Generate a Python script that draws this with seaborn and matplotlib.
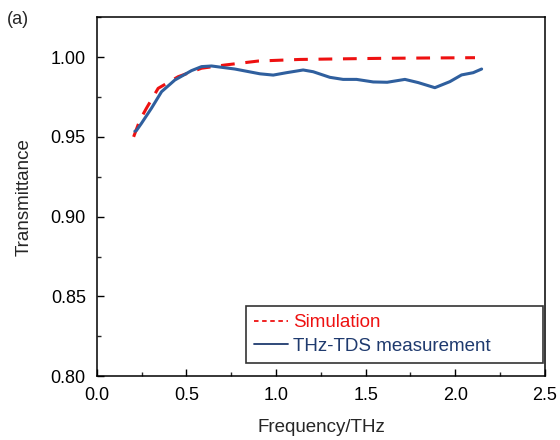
import matplotlib
matplotlib.use("Agg")
import matplotlib.pyplot as plt
import seaborn as sns
import pandas as pd
from matplotlib.ticker import AutoMinorLocator

sim_freq = [0.205, 0.240, 0.277, 0.342, 0.454, 0.584, 0.714, 0.900, 1.133, 1.449, 1.596, 1.821, 2.110]
sim_trans = [0.950, 0.9605, 0.968, 0.9804, 0.9877, 0.993, 0.995, 0.9975, 0.9985, 0.9990, 0.9992, 0.9994, 0.9996]

meas_freq = [0.212, 0.221, 0.249, 0.305, 0.361, 0.435, 0.528, 0.584, 0.640, 0.770,
             0.910, 0.984, 1.058, 1.151, 1.207, 1.300, 1.374, 1.449, 1.542, 1.620,
             1.719, 1.793, 1.886, 1.970, 2.035, 2.100, 2.147]
meas_trans = [0.9535, 0.954, 0.9585, 0.968, 0.9783, 0.9856, 0.9915, 0.994, 0.9944, 0.9925,
              0.9895, 0.9887, 0.9902, 0.9919, 0.9908, 0.9873, 0.9860, 0.9860, 0.9844, 0.9842,
              0.9860, 0.9840, 0.9808, 0.9846, 0.9888, 0.9902, 0.9925]

sns.set_theme(style="ticks")
plt.rcParams['font.family'] = ['Liberation Sans', 'DejaVu Sans']

fig = plt.figure(figsize=(5.6, 4.4), dpi=100)
ax = fig.add_axes([0.173, 0.145, 0.800, 0.816])

sim = pd.DataFrame({"f": sim_freq, "t": sim_trans})
meas = pd.DataFrame({"f": meas_freq, "t": meas_trans})

sns.lineplot(data=sim, x="f", y="t", ax=ax, color="#ee1111", lw=2.2,
             linestyle=(0, (4.5, 3.5)), label="Simulation")
sns.lineplot(data=meas, x="f", y="t", ax=ax, color="#2f5f9e", lw=2.2,
             label="THz-TDS measurement")
for ln in ax.get_lines():
    ln.set_solid_joinstyle("round")
    ln.set_dash_joinstyle("round")

ax.set_xlim(0, 2.5)
ax.set_ylim(0.80, 1.025)
ax.set_yticks([0.80, 0.85, 0.90, 0.95, 1.00])
ax.set_yticklabels(["0.80", "0.85", "0.90", "0.95", "1.00"])
ax.set_xticks([0.0, 0.5, 1.0, 1.5, 2.0, 2.5])
ax.set_xticklabels(["0.0", "0.5", "1.0", "1.5", "2.0", "2.5"])
ax.xaxis.set_minor_locator(AutoMinorLocator(2))
ax.yaxis.set_minor_locator(AutoMinorLocator(2))
ax.tick_params(axis="both", which="major", direction="in", length=5, width=1,
               labelsize=13, colors="black", top=False, right=False, pad=8)
ax.tick_params(axis="both", which="minor", direction="in", length=3, width=1,
               top=False, right=False)
for s in ax.spines.values():
    s.set_linewidth(1.1)
    s.set_color("black")
ax.set_xlabel("Frequency/THz", fontsize=13.5)
ax.set_ylabel("Transmittance", fontsize=13.5)
ax.xaxis.set_label_coords(0.5, -0.12)
ax.yaxis.set_label_coords(-0.143, 0.5)

handles, labels = ax.get_legend_handles_labels()
leg = ax.legend(handles, labels, loc="lower left", mode="expand", fontsize=13.5,
                frameon=True, fancybox=False, edgecolor="black", handlelength=1.8,
                handletextpad=0.3, bbox_to_anchor=(0.332, 0.036, 0.6635, 0.165),
                borderpad=0.45, labelspacing=0.35, borderaxespad=0)
leg.get_frame().set_linewidth(1.2)
texts = leg.get_texts()
texts[0].set_color("#ee1111")
texts[1].set_color("#1f3a6e")
ll = leg.get_lines()
ll[0].set_linewidth(1.3)
ll[0].set_linestyle((0, (2.5, 2)))
ll[1].set_linewidth(1.3)
ll[1].set_color("#1f3a6e")

fig.text(0.012, 0.975, "(a)", fontsize=13, va="top", ha="left")

fig.savefig("out.png", dpi=100)
